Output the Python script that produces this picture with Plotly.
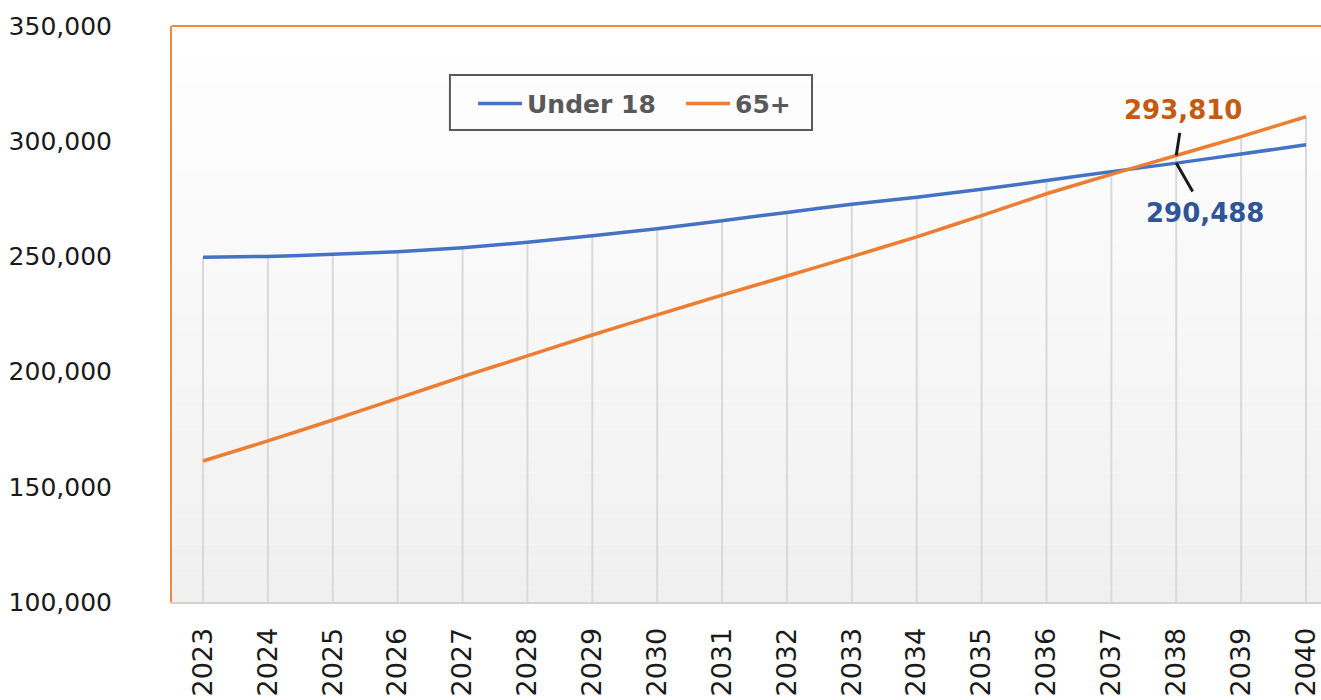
import plotly.graph_objects as go

years = list(range(2023, 2041))
under18 = [249600, 250000, 250900, 252000, 253800, 256100, 259000, 262000, 265500,
           269100, 272600, 275700, 279100, 282900, 286800, 290488, 294400, 298500]
over65 = [161200, 169900, 179000, 188400, 197800, 206800, 215900, 224600, 233200,
          241500, 249900, 258500, 267700, 277200, 285600, 293810, 302000, 310600]
y_ticks = [100000, 150000, 200000, 250000, 300000, 350000]
label_u18_year, label_u18_value = 2038, 290488
label_65_year, label_65_value = 2038, 293810

BLUE = "#4472C4"
ORANGE = "#ED7D31"
FONT = "DejaVu Sans"

fig = go.Figure()

# background gradient (white top -> light grey bottom)
n = 40
for i in range(n):
    t = i / (n - 1)
    c = int(round(255 - (255 - 240) * t))
    fig.add_shape(type="rect", xref="x domain", yref="y domain",
                  x0=0, x1=1, y0=1 - (i + 1) / n, y1=1 - i / n,
                  fillcolor=f"rgb({c},{c},{c})", line_width=0, layer="below")

# drop lines from highest series to axis
dx, dy = [], []
for yr, a, b in zip(years, under18, over65):
    dx += [yr, yr, None]
    dy += [y_ticks[0], max(a, b), None]
fig.add_trace(go.Scatter(x=dx, y=dy, mode="lines", line=dict(color="#D9D9D9", width=2),
                         showlegend=False, hoverinfo="skip"))

fig.add_trace(go.Scatter(x=years, y=under18, mode="lines", name="Under 18",
                         line=dict(color=BLUE, width=3.5, shape="spline", smoothing=0.4)))
fig.add_trace(go.Scatter(x=years, y=over65, mode="lines", name="65+",
                         line=dict(color=ORANGE, width=3.5, shape="spline", smoothing=0.4)))

fig.add_annotation(x=label_65_year, y=label_65_value, text=f"<b>{label_65_value:,}</b>",
                   showarrow=True, arrowhead=0, arrowwidth=3, arrowcolor="#1a1a1a",
                   ax=7, ay=-45, startstandoff=6, font=dict(family=FONT, size=26, color="#C55A11"))
fig.add_annotation(x=label_u18_year, y=label_u18_value, text=f"<b>{label_u18_value:,}</b>",
                   showarrow=True, arrowhead=0, arrowwidth=3, arrowcolor="#1a1a1a",
                   ax=29, ay=50, startstandoff=6, font=dict(family=FONT, size=26, color="#2F5597"))

# top border
fig.add_shape(type="line", xref="x domain", yref="y domain", x0=0, x1=1, y0=1, y1=1,
              line=dict(color="#EE8A40", width=2))
# legend frame
fig.add_shape(type="rect", xref="paper", yref="paper", x0=0.2419, x1=0.5570, y0=0.8194, y1=0.9149,
              line=dict(color="#595959", width=2), fillcolor="rgba(0,0,0,0)")

fig.update_layout(
    width=1321, height=700,
    margin=dict(l=172, r=0, t=26, b=98),
    paper_bgcolor="white", plot_bgcolor="rgba(0,0,0,0)",
    font=dict(family=FONT, color="#1a1a1a"),
    legend=dict(orientation="h", x=0.262, y=0.905, xanchor="left", yanchor="top",
                borderwidth=0, bgcolor="rgba(255,255,255,0)",
                font=dict(family=FONT, size=25, color="#595959", weight="bold"),
                itemwidth=44, entrywidth=149, entrywidthmode="pixels"),
    showlegend=True,
)
fig.update_xaxes(range=[2022.522, 2040.231], tickvals=years, ticktext=[str(y) for y in years],
                 tickangle=-90, showgrid=False, zeroline=False,
                 showline=True, linecolor="#DDD0C6", linewidth=2,
                 ticks="", ticklabelstandoff=13,
                 tickfont=dict(family=FONT, size=27, color="#1a1a1a"))
fig.update_yaxes(range=[100000, 350000], tickvals=y_ticks, tickformat=",d",
                 showgrid=False, zeroline=False,
                 showline=True, linecolor="#EE8A40", linewidth=2,
                 ticks="", ticklabelstandoff=53,
                 tickfont=dict(family=FONT, size=25, color="#1a1a1a"))

fig.write_html("out.html", config={"displayModeBar": False},
               post_script="document.body.style.margin='0';document.body.style.overflow='hidden';")
